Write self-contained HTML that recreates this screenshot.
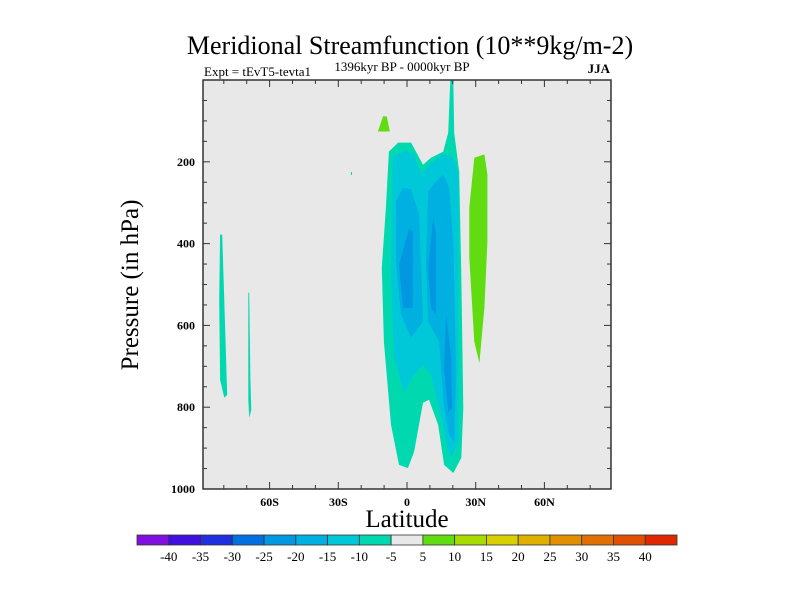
<!DOCTYPE html>
<html><head><meta charset="utf-8"><style>
body{margin:0;background:#fff;width:800px;height:600px;overflow:hidden;font-family:"Liberation Serif",serif}
</style></head><body>
<svg id="c" width="800" height="600" xmlns="http://www.w3.org/2000/svg" font-family="Liberation Serif, serif"></svg>
<script>
const levels=[-40,-35,-30,-25,-20,-15,-10,-5,5,10,15,20,25,30,35,40];
const colors=["#8010e0","#4010e0","#2030e0","#0070e0","#0098e0","#00b0e0","#00c8d8","#00d8b0","#e8e8e8","#60dc10","#a8dc00","#d8d000","#e0b000","#e09000","#e07000","#e05000","#e02800"];
const xTicks=[-60,-30,0,30,60];
const xTickLabels=["60S","30S","0","30N","60N"];
const yTicks=[200,400,600,800,1000];
// contour regions: [colorIndex, [[lat,p],...]]
const regTeal=[[-7.9,175],[-3.9,153],[1.8,153],[7.0,207],[10.5,190],[15.8,175],[18.0,129],[18.9,0],[20.2,0],[20.6,129],[22.8,224],[23.7,476],[24.6,802],[23.7,924],[20.2,961],[16.2,941],[13.6,843],[9.6,782],[7.0,789],[3.1,909],[0.4,949],[-3.5,941],[-7.0,843],[-10.1,640],[-11.0,459],[-9.2,312]];
const regCyan=[[-6.1,187],[-0.4,173],[3.1,182],[6.1,231],[9.6,207],[15.8,182],[20.2,190],[22.4,231],[22.4,557],[22.4,885],[19.3,924],[17.1,885],[14.0,802],[10.5,721],[7.0,696],[3.1,721],[-1.3,763],[-5.7,679],[-7.0,476],[-6.6,312]];
const regBlue1a=[[-4.8,297],[-1.8,263],[1.8,268],[5.3,329],[6.1,444],[7.0,591],[1.8,630],[-2.6,574],[-4.8,444]];
const regBlue1b=[[9.2,273],[11.4,256],[15.8,231],[18.4,263],[20.2,395],[21.5,721],[20.6,885],[18.4,868],[16.2,802],[14.0,640],[9.2,591],[8.3,444]];
const regBlue2a=[[0.9,363],[2.6,371],[2.6,557],[-1.8,557],[-3.5,452]];
const regBlue2b=[[11.4,337],[12.7,378],[12.7,574],[10.5,557],[9.2,459]];
const regBlue2c=[[17.1,574],[19.3,679],[19.7,802],[18.0,812],[16.2,703]];
const regGreen1=[[29.4,190],[33.8,182],[35.1,231],[35.1,395],[33.8,557],[31.6,692],[29.4,640],[27.2,434],[27.2,312]];
const regGreen2=[[-10.5,89],[-8.8,89],[-7.5,126],[-12.7,126]];
const regStrip1=[[-81.6,378],[-80.7,378],[-79.4,611],[-78.5,770],[-79.8,777],[-81.6,733],[-82.0,537]];
const regStrip2=[[-69.3,520],[-68.9,520],[-68.4,733],[-68.0,807],[-68.9,826],[-69.3,782]];
const regDot=[[-24.5,225],[-24.0,225],[-24.0,232],[-24.5,232]];
const regions=[[7,regTeal],[6,regCyan],[5,regBlue1a],[5,regBlue1b],[4,regBlue2a],[4,regBlue2b],[4,regBlue2c],[9,regGreen1],[9,regGreen2],[7,regStrip1],[7,regStrip2],[7,regDot]];

const NS="http://www.w3.org/2000/svg";
const svg=document.getElementById('c');
const L=203,R=611,T=80,B=489;
const xs=lat=>407+lat*2.29;
const ys=p=>T+p*(B-T)/1000;
function mk(tag,at,parent){const e=document.createElementNS(NS,tag);for(const k in at)e.setAttribute(k,at[k]);(parent||svg).appendChild(e);return e;}
function txt(s,x,y,size,anchor,extra){const t=mk('text',Object.assign({x:x,y:y,'font-size':size,'text-anchor':anchor||'middle',fill:'#000'},extra||{}));t.textContent=s;return t;}

let bg=mk('rect',{x:L,y:T,width:R-L,height:B-T,fill:'#e8e8e8'});


const g=mk('g',{});


regions.forEach((r,i)=>{
  const pl=mk('polygon',{points:r[1].map(q=>xs(q[0]).toFixed(1)+','+ys(q[1]).toFixed(1)).join(' '),fill:colors[r[0]]},g);
  
  
});
let fr=mk('rect',{x:L,y:T,width:R-L,height:B-T,fill:'none',stroke:'#333','stroke-width':1.5});


for(let lat=-80;lat<=80;lat+=10){
  const major=xTicks.includes(lat);const len=major?7:4;const x=xs(lat);
  mk('line',{x1:x,x2:x,y1:B,y2:B-len,stroke:'#333'});
  mk('line',{x1:x,x2:x,y1:T,y2:T+len,stroke:'#333'});
}
xTicks.forEach((v,i)=>{const t=txt(xTickLabels[i],xs(v),506,12,'middle',{'font-weight':'bold'});
  
  });
for(let p=50;p<1000;p+=50){
  const major=yTicks.includes(p);const len=major?7:4;const y=ys(p);
  mk('line',{x1:L,x2:L+len,y1:y,y2:y,stroke:'#333'});
  mk('line',{x1:R,x2:R-len,y1:y,y2:y,stroke:'#333'});
}
yTicks.forEach(v=>{const t=txt(String(v),195,ys(v)+4,12,'end',{'font-weight':'bold'});
  
  });
let t1=txt('Meridional Streamfunction (10**9kg/m-2)',410,54,26,'middle');


let t2=txt('Expt = tEvT5-tevta1',204,76,13,'start');


let t3=txt('1396kyr BP - 0000kyr BP',402,71,13,'middle');


let t4=txt('JJA',610,73,13,'end',{'font-weight':'bold'});


let t5=txt('Latitude',407,527,25,'middle');


let t6=txt('Pressure (in hPa)',0,0,25,'middle',{transform:'translate(138,285) rotate(-90)'});


const cb=mk('g',{});


const cx0=137,cw=(677-137)/colors.length;
colors.forEach((c,i)=>{const r=mk('rect',{x:cx0+i*cw,y:535,width:cw,height:10,fill:c,stroke:'#333','stroke-width':0.8},cb);
  
  });
levels.forEach((v,i)=>{const t=txt(String(v),cx0+(i+1)*cw,561,13,'middle');
  
  });
</script>
</body></html>
